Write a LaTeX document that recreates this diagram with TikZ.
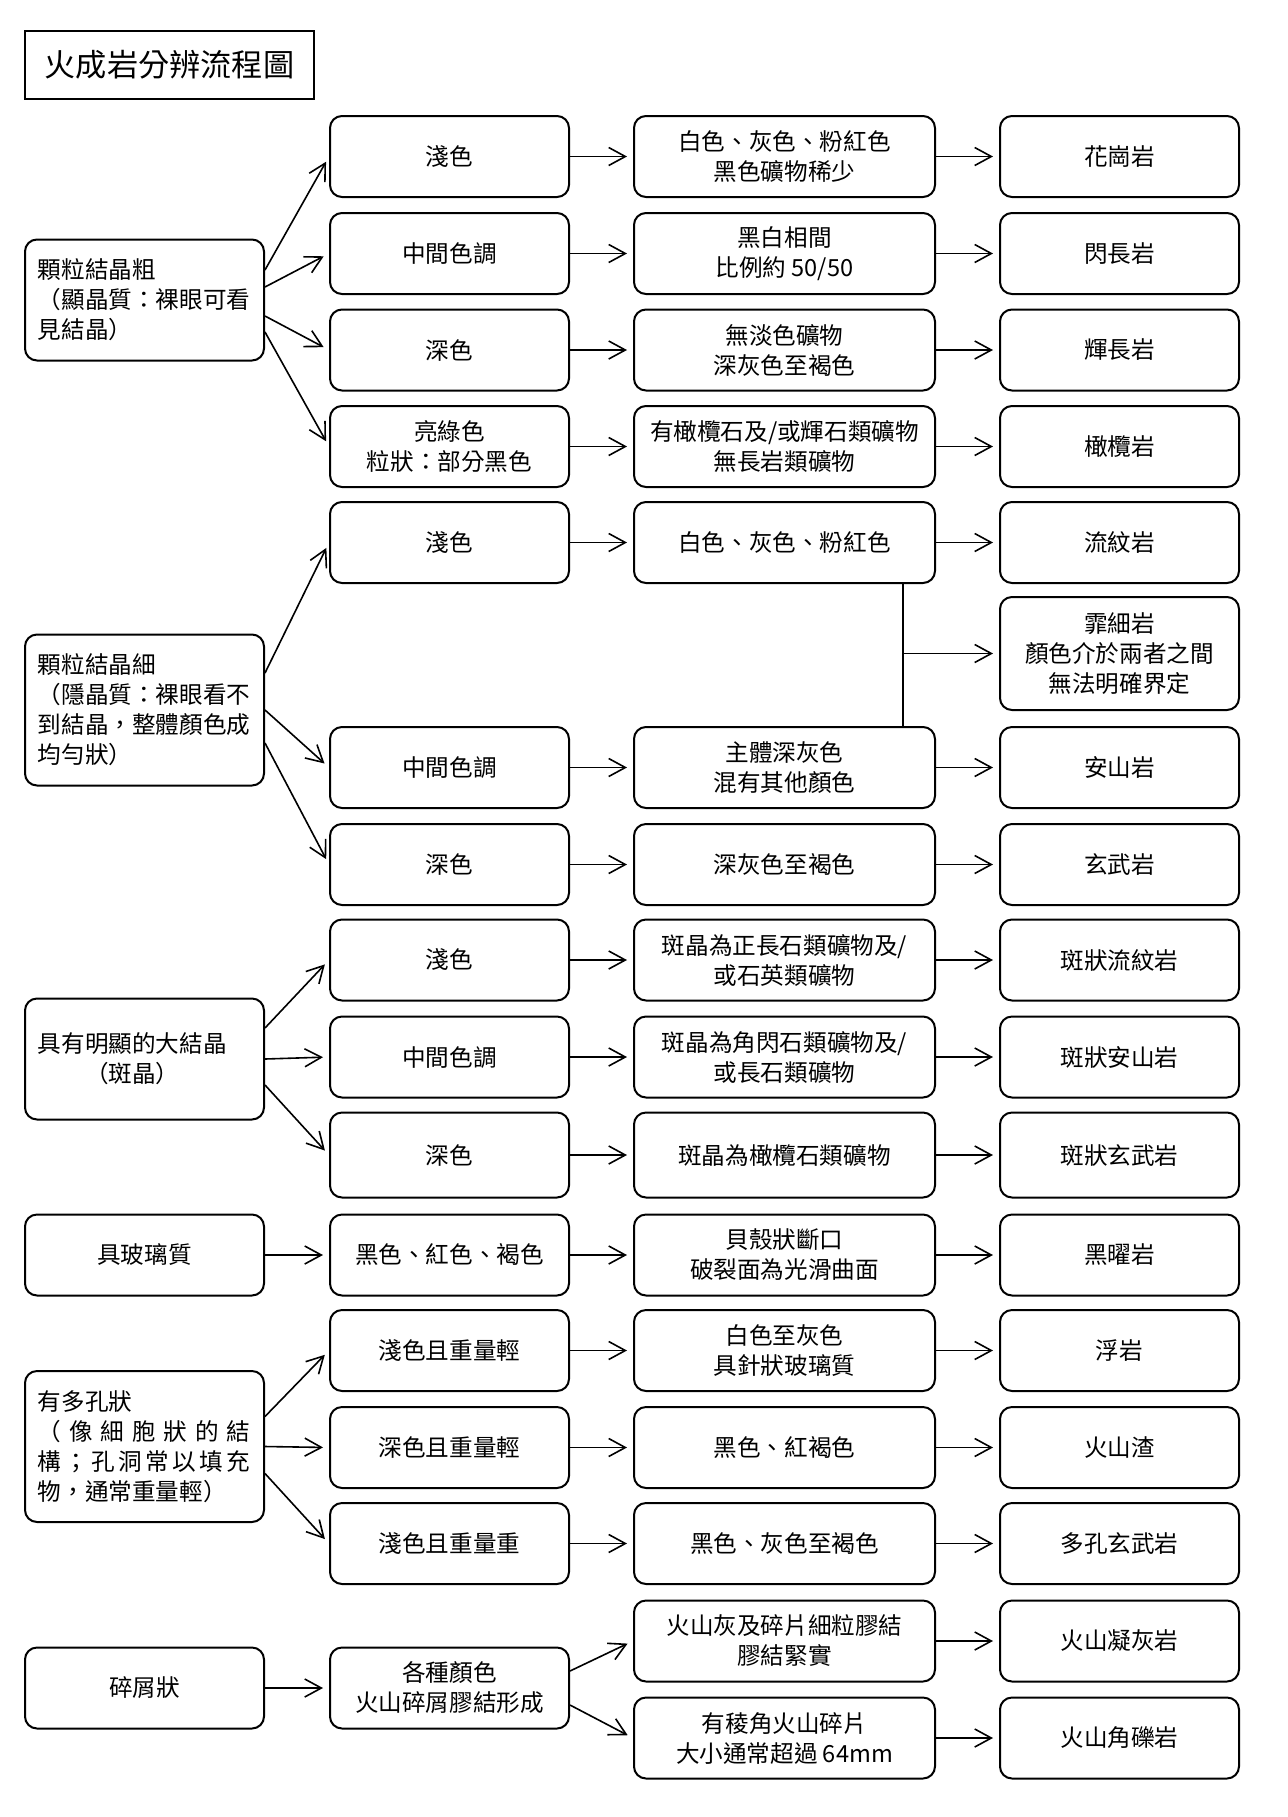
\documentclass[tikz,border=0pt]{standalone}
\usepackage{fontspec}
\setmainfont{Noto Sans CJK TC}
\usepackage{tikz}
\usetikzlibrary{
  arrows.meta
  , positioning
}
\newcommand\boxfont{\fontsize{11.8}{15}\selectfont}
\newcommand\titlefont{\fontsize{15.6}{18}\selectfont}

\begin{document}
\begin{tikzpicture}[x=0.5pt, y=-0.5pt,
    box/.style={draw, rounded corners=6pt, line width=1pt,
      minimum height=40.5pt, inner sep=0pt, align=center, font=\boxfont},
    catbox/.style={box, text width=106.5pt, inner xsep=6.5pt, align=left},
    optbox/.style={box, minimum width=119.5pt},
    keybox/.style={box, minimum width=150.5pt},
    rockbox/.style={box, minimum width=119.5pt},
    flow/.style={line width=0.8pt,
      -{Straight Barb[length=8.3pt, width=9pt]}, shorten >=3pt},
  ]
  \useasboundingbox (0,0) rectangle (1288,1817);

  \node [draw, line width=1pt,
    minimum width=144.75pt,
    minimum height=34pt,
    inner sep=0pt,
    font=\titlefont] (title) at (169.5,65) {火成岩分辨流程圖};

  % first column
  \node [catbox, minimum height=60.5pt] (coarse) at (144.5,300)
    {顆粒結晶粗\\（顯晶質：裸眼可看\\見結晶）};
  \node [catbox, minimum height=75.5pt] (fine) at (144.5,710)
    {顆粒結晶細\\（隱晶質：裸眼看不\\到結晶，整體顏色成\\均勻狀）};
  \node [catbox, minimum height=60.5pt] (porph) at (144.5,1059)
    {具有明顯的大結晶\\\makebox[8em]{（斑晶）}};
  \node [catbox, align=center] (glassy) at (144.5,1255) {具玻璃質};
  \node [catbox, minimum height=75.5pt] (vesic) at (144.5,1446.5)
    {有多孔狀\\\makebox[9em][s]{（\hfill{}像\hfill{}細\hfill{}胞\hfill{}狀\hfill{}的\hfill{}結}\\
     \makebox[9em][s]{構\hfill{}；\hfill{}孔\hfill{}洞\hfill{}常\hfill{}以\hfill{}填\hfill{}充}\\物，通常重量輕）};
  \node [catbox, align=center] (clastic) at (144.5,1688) {碎屑狀};

  % coarse grained rows
  \node [optbox] (light1) at (449.5,156.5) {淺色};
  \node [keybox, right=31.5pt of light1] (granitekey) {白色、灰色、粉紅色\\黑色礦物稀少};
  \node [rockbox, right=31.5pt of granitekey] (granite) {花崗岩};

  \node [optbox] (mid1) at (449.5,253.5) {中間色調};
  \node [keybox, right=31.5pt of mid1] (dioritekey) {黑白相間\\比例約 50/50};
  \node [rockbox, right=31.5pt of dioritekey] (diorite) {閃長岩};

  \node [optbox] (dark1) at (449.5,350) {深色};
  \node [keybox, right=31.5pt of dark1] (gabbrokey) {無淡色礦物\\深灰色至褐色};
  \node [rockbox, right=31.5pt of gabbrokey] (gabbro) {輝長岩};

  \node [optbox] (green1) at (449.5,446.5) {亮綠色\\粒狀：部分黑色};
  \node [keybox, right=31.5pt of green1] (peridkey) {有橄欖石及/或輝石類礦物\\無長岩類礦物};
  \node [rockbox, right=31.5pt of peridkey] (peridotite) {橄欖岩};

  % fine grained rows
  \node [optbox] (light2) at (449.5,542.5) {淺色};
  \node [keybox, right=31.5pt of light2] (rhyokey) {白色、灰色、粉紅色};
  \node [rockbox, right=31.5pt of rhyokey] (rhyolite) {流紋岩};

  \node [rockbox, minimum height=56.5pt] (felsite) at (1119.5,653.5)
    {霏細岩\\顏色介於兩者之間\\無法明確界定};

  \node [optbox] (mid2) at (449.5,767.5) {中間色調};
  \node [keybox, right=31.5pt of mid2] (andekey) {主體深灰色\\混有其他顏色};
  \node [rockbox, right=31.5pt of andekey] (andesite) {安山岩};

  \node [optbox] (dark2) at (449.5,864.5) {深色};
  \node [keybox, right=31.5pt of dark2] (basaltkey) {深灰色至褐色};
  \node [rockbox, right=31.5pt of basaltkey] (basalt) {玄武岩};

  % porphyritic rows
  \node [optbox] (light3) at (449.5,960) {淺色};
  \node [keybox, right=31.5pt of light3] (prhyokey) {斑晶為正長石類礦物及/\\或石英類礦物};
  \node [rockbox, right=31.5pt of prhyokey] (prhyolite) {斑狀流紋岩};

  \node [optbox] (mid3) at (449.5,1057) {中間色調};
  \node [keybox, right=31.5pt of mid3] (pandekey) {斑晶為角閃石類礦物及/\\或長石類礦物};
  \node [rockbox, right=31.5pt of pandekey] (pandesite) {斑狀安山岩};

  \node [optbox, minimum height=42.5pt] (dark3) at (449.5,1155) {深色};
  \node [keybox, minimum height=42.5pt, right=31.5pt of dark3] (pbasaltkey) {斑晶為橄欖石類礦物};
  \node [rockbox, minimum height=42.5pt, right=31.5pt of pbasaltkey] (pbasalt) {斑狀玄武岩};

  % glassy row
  \node [optbox] (glasscol) at (449.5,1255) {黑色、紅色、褐色};
  \node [keybox, right=31.5pt of glasscol] (obsidkey) {貝殼狀斷口\\破裂面為光滑曲面};
  \node [rockbox, right=31.5pt of obsidkey] (obsidian) {黑曜岩};

  % vesicular rows
  \node [optbox] (lightlight) at (449.5,1350.5) {淺色且重量輕};
  \node [keybox, right=31.5pt of lightlight] (pumicekey) {白色至灰色\\具針狀玻璃質};
  \node [rockbox, right=31.5pt of pumicekey] (pumice) {浮岩};

  \node [optbox] (darklight) at (449.5,1447.5) {深色且重量輕};
  \node [keybox, right=31.5pt of darklight] (scoriakey) {黑色、紅褐色};
  \node [rockbox, right=31.5pt of scoriakey] (scoria) {火山渣};

  \node [optbox] (lightheavy) at (449.5,1543.5) {淺色且重量重};
  \node [keybox, right=31.5pt of lightheavy] (vbasaltkey) {黑色、灰色至褐色};
  \node [rockbox, right=31.5pt of vbasaltkey] (vbasalt) {多孔玄武岩};

  % clastic rows
  \node [optbox] (anycol) at (449.5,1688) {各種顏色\\火山碎屑膠結形成};
  \node [keybox] (tuffkey) at (784.5,1641) {火山灰及碎片細粒膠結\\膠結緊實};
  \node [rockbox, right=31.5pt of tuffkey] (tuff) {火山凝灰岩};
  \node [keybox] (brecciakey) at (784.5,1738) {有稜角火山碎片\\大小通常超過 64mm};
  \node [rockbox, right=31.5pt of brecciakey] (breccia) {火山角礫岩};

  % from the first column
  \draw [flow] ([yshift=15pt]coarse.east) -- (light1.west);
  \draw [flow] ([yshift=6.5pt]coarse.east) -- (mid1.west);
  \draw [flow] ([yshift=-8pt]coarse.east) -- (dark1.west);
  \draw [flow] ([yshift=-16pt]coarse.east) -- (green1.west);

  \draw [flow] ([yshift=18.5pt]fine.east) -- (light2.west);
  \draw [flow] (fine.east) -- (mid2.west);
  \draw [flow] ([yshift=-16.5pt]fine.east) -- (dark2.west);

  \draw [flow] ([yshift=15.5pt]porph.east) -- (light3.west);
  \draw [flow] (porph.east) -- (mid3.west);
  \draw [flow] ([yshift=-13pt]porph.east) -- (dark3.west);

  \draw [flow] (glassy) -- (glasscol);

  \draw [flow] ([yshift=15pt]vesic.east) -- (lightlight.west);
  \draw [flow] (vesic.east) -- (darklight.west);
  \draw [flow] ([yshift=-13.5pt]vesic.east) -- (lightheavy.west);

  \draw [flow] (clastic) -- (anycol);
  \draw [flow] ([yshift=8.5pt]anycol.east) -- (tuffkey.west);
  \draw [flow] ([yshift=-8.5pt]anycol.east) -- (brecciakey.west);

  % second to third column
  \draw [flow] (light1) -- (granitekey);
  \draw [flow] (mid1) -- (dioritekey);
  \draw [flow] (dark1) -- (gabbrokey);
  \draw [flow] (green1) -- (peridkey);
  \draw [flow] (light2) -- (rhyokey);
  \draw [flow] (mid2) -- (andekey);
  \draw [flow] (dark2) -- (basaltkey);
  \draw [flow] (light3) -- (prhyokey);
  \draw [flow] (mid3) -- (pandekey);
  \draw [flow] (dark3) -- (pbasaltkey);
  \draw [flow] (glasscol) -- (obsidkey);
  \draw [flow] (lightlight) -- (pumicekey);
  \draw [flow] (darklight) -- (scoriakey);
  \draw [flow] (lightheavy) -- (vbasaltkey);

  % third to fourth column
  \draw [flow] (granitekey) -- (granite);
  \draw [flow] (dioritekey) -- (diorite);
  \draw [flow] (gabbrokey) -- (gabbro);
  \draw [flow] (peridkey) -- (peridotite);
  \draw [flow] (rhyokey) -- (rhyolite);
  \draw [flow] (andekey) -- (andesite);
  \draw [flow] (basaltkey) -- (basalt);
  \draw [flow] (prhyokey) -- (prhyolite);
  \draw [flow] (pandekey) -- (pandesite);
  \draw [flow] (pbasaltkey) -- (pbasalt);
  \draw [flow] (obsidkey) -- (obsidian);
  \draw [flow] (pumicekey) -- (pumice);
  \draw [flow] (scoriakey) -- (scoria);
  \draw [flow] (vbasaltkey) -- (vbasalt);
  \draw [flow] (tuffkey) -- (tuff);
  \draw [flow] (brecciakey) -- (breccia);

  % between rhyolite and andesite
  \coordinate (split) at (903,653.5);
  \draw [line width=0.8pt] (split |- rhyokey.south) -- (split |- andekey.north);
  \draw [flow] (split) -- (felsite.west);
\end{tikzpicture}
\end{document}
